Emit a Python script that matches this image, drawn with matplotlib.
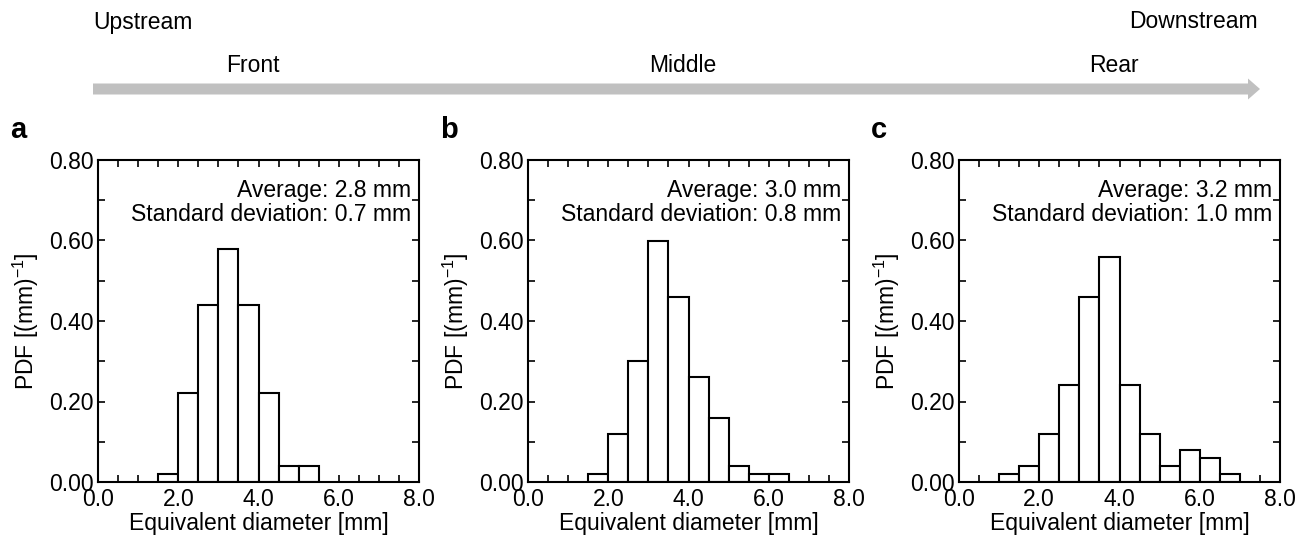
import numpy as np
import matplotlib.pyplot as plt
from matplotlib.patches import FancyArrow
from matplotlib.ticker import MultipleLocator

plt.rcParams['font.family'] = ['Liberation Sans', 'DejaVu Sans']

bin_width = 0.5
# left edges of the bins and PDF values per panel
left_a = [1.5, 2.0, 2.5, 3.0, 3.5, 4.0, 4.5, 5.0]
pdf_a = [0.02, 0.22, 0.44, 0.58, 0.44, 0.22, 0.04, 0.04]

left_b = [1.5, 2.0, 2.5, 3.0, 3.5, 4.0, 4.5, 5.0, 5.5, 6.0]
pdf_b = [0.02, 0.12, 0.30, 0.60, 0.46, 0.26, 0.16, 0.04, 0.02, 0.02]

left_c = [1.0, 1.5, 2.0, 2.5, 3.0, 3.5, 4.0, 4.5, 5.0, 5.5, 6.0, 6.5]
pdf_c = [0.02, 0.04, 0.12, 0.24, 0.46, 0.56, 0.24, 0.12, 0.04, 0.08, 0.06, 0.02]

panel_letters = ['a', 'b', 'c']
positions = ['Front', 'Middle', 'Rear']
averages = [2.8, 3.0, 3.2]
stdevs = [0.7, 0.8, 1.0]

W, H = 1307, 546
fig = plt.figure(figsize=(W / 100, H / 100), dpi=100)

# top banner with the flow direction arrow
top = fig.add_axes([0, 0, 1, 1])
top.set_xlim(0, W)
top.set_ylim(H, 0)
top.axis('off')
top.add_patch(FancyArrow(93, 89, 1167, 0, width=11, head_width=21, head_length=12,
                         length_includes_head=True, color='#c0c0c0', lw=0))
top.text(93, 22, 'Upstream', fontsize=16.5, ha='left', va='center')
top.text(1258, 22, 'Downstream', fontsize=16.5, ha='right', va='center')

ax_left = [98, 528, 959]
ax_w, ax_top, ax_bot = 321, 160, 482
data = [(left_a, pdf_a), (left_b, pdf_b), (left_c, pdf_c)]

for i, (lefts, pdf) in enumerate(data):
    x0 = ax_left[i]
    ax = fig.add_axes([x0 / W, 1 - ax_bot / H, ax_w / W, (ax_bot - ax_top) / H])
    ax.bar(lefts, pdf, width=bin_width, align='edge', facecolor='white',
           edgecolor='black', linewidth=1.5)
    ax.set_xlim(0, 8)
    ax.set_ylim(0, 0.8)
    ax.xaxis.set_major_locator(MultipleLocator(2))
    ax.xaxis.set_minor_locator(MultipleLocator(0.5))
    ax.yaxis.set_major_locator(MultipleLocator(0.2))
    ax.yaxis.set_minor_locator(MultipleLocator(0.1))
    ax.xaxis.set_major_formatter(lambda v, p: f'{v:.1f}')
    ax.yaxis.set_major_formatter(lambda v, p: f'{v:.2f}')
    ax.tick_params(which='both', direction='in', top=True, right=True,
                   length=5, width=1.2, labelsize=16.5)
    ax.tick_params(axis='x', pad=4)
    ax.tick_params(axis='y', pad=3)
    for s in ax.spines.values():
        s.set_linewidth(1.5)
    ax.set_xlabel('Equivalent diameter [mm]', fontsize=16.5, labelpad=1)
    ax.set_ylabel(r'PDF [(mm)$\mathregular{^{-1}}$]', fontsize=16.5, labelpad=6)
    ax.text(0.975, 0.905, f'Average: {averages[i]:.1f} mm', transform=ax.transAxes,
            ha='right', va='center', fontsize=16.5)
    ax.text(0.975, 0.83, f'Standard deviation: {stdevs[i]:.1f} mm', transform=ax.transAxes,
            ha='right', va='center', fontsize=16.5)

    top.text(x0 - 88, 130, panel_letters[i], fontsize=21, fontweight='bold',
             ha='left', va='center')
    top.text(x0 + 155, 65, positions[i], fontsize=16.5, ha='center', va='center')

fig.savefig('out.png', dpi=100)
